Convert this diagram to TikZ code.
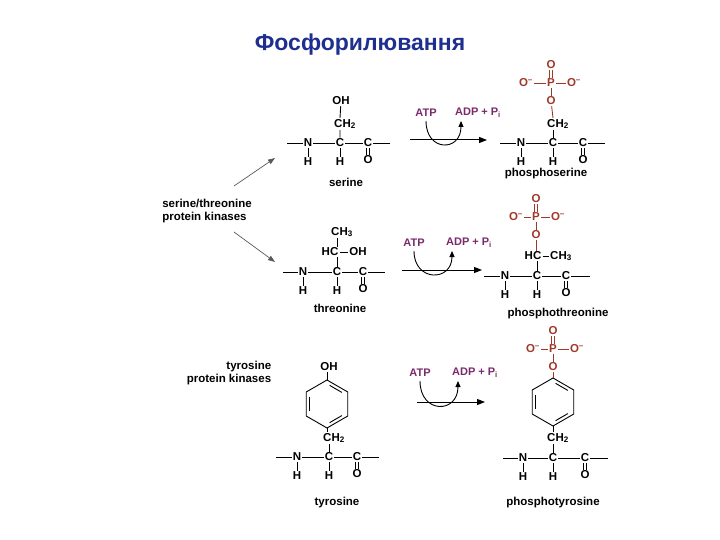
\documentclass[tikz,border=0pt]{standalone}
\usepackage{fontspec}
\setmainfont{Liberation Sans}
\usetikzlibrary{arrows.meta,calc}
\definecolor{titleblue}{HTML}{1F2F8F}
\definecolor{atppurple}{HTML}{7A2A6A}
\definecolor{phosred}{HTML}{A03828}
\tikzset{
 atom/.style={inner sep=1pt,font=\bfseries\fontsize{11.5}{12}\selectfont},
 lbl/.style={inner sep=1pt,font=\bfseries\fontsize{11.5}{12.5}\selectfont,align=left},
 bond/.style={line width=0.9pt},
 pbond/.style={line width=0.9pt,draw=phosred},
 patom/.style={atom,text=phosred},
 rlab/.style={inner sep=1pt,font=\bfseries\fontsize{11}{12}\selectfont,text=atppurple},
 rarrow/.style={line width=1pt,-{Triangle[length=8pt,width=6pt]}},
 karrow/.style={line width=0.7pt,draw=gray!70!black,-{Triangle[length=7pt,width=5pt]}}
}
\newcommand\bbone[7]{%
 \node[atom] (#1N) at (#2,#5) {N};
 \node[atom] (#1A) at (#3,#5) {C};
 \node[atom] (#1C) at (#4,#5) {C};
 \node[atom] (#1HN) at (#2,#5+19) {H};
 \node[atom] (#1HA) at (#3,#5+19) {H};
 \node[atom] (#1O) at (#4,#5+17) {O};
 \coordinate (#1L) at (#6,#5); \coordinate (#1R) at (#7,#5);
 \draw[bond] (#1L)--(#1N)--(#1A)--(#1C)--(#1R);
 \draw[bond] (#1N)--(#1HN) (#1A)--(#1HA);
 \draw[bond,double,double distance=2pt] (#1C)--(#1O);}
\newcommand\phosgrp[5]{% prefix, x, yP, xLeft, xRight
 \node[patom] (#1PT) at (#2,#3-18) {O};
 \node[patom] (#1P) at (#2,#3) {P};
 \node[patom] (#1PL) at (#4,#3) {O\textsuperscript{--}};
 \node[patom] (#1PR) at (#5,#3) {O\textsuperscript{--}};
 \node[patom] (#1PO) at (#2,#3+18) {O};
 \draw[pbond,double,double distance=2pt] (#1P)--(#1PT);
 \draw[pbond] (#1PL)--(#1P)--(#1PR) (#1P)--(#1PO);}
\newcommand\rxn[7]{% prefix, x1, x2, y, xATP, xADP, ylab
 \node[rlab] (#1atp) at (#5,#7) {ATP};
 \node[rlab] (#1adp) at (#6,#7) {ADP + P\textsubscript{i}};
 \coordinate (#1s) at (#2,#4); \coordinate (#1e) at (#3,#4);
 \draw[rarrow] (#1s)--(#1e);
 \coordinate (#1a) at (#5,#7+8);
 \coordinate (#1t) at (#6-17,#7+8);
 \coordinate (#1c1) at (#5,#4+12);
 \coordinate (#1c2) at (#6-17,#4+12);
 \draw[line width=0.9pt,-{Triangle[length=6pt,width=5pt]}] (#1a) .. controls (#1c1) and (#1c2) .. (#1t);}
\newcommand\benz[3]{% prefix, cx, cy
 \foreach \i in {0,...,5}{\coordinate (#1r\i) at ({#2+24*cos(90+60*\i)},{#3-24*sin(90+60*\i)});}
 \coordinate (#1c) at (#2,#3);
 \draw[bond] (#1r0)--(#1r1)--(#1r2)--(#1r3)--(#1r4)--(#1r5)--cycle;
 \draw[bond] ($(#1r1)!0.15!(#1r2)!0.16!(#1c)$)--($(#1r2)!0.15!(#1r1)!0.16!(#1c)$);
 \draw[bond] ($(#1r3)!0.15!(#1r4)!0.16!(#1c)$)--($(#1r4)!0.15!(#1r3)!0.16!(#1c)$);
 \draw[bond] ($(#1r5)!0.15!(#1r0)!0.16!(#1c)$)--($(#1r0)!0.15!(#1r5)!0.16!(#1c)$);}
\begin{document}
\begin{tikzpicture}[x=1pt,y=-1pt]
\useasboundingbox (0,0) rectangle (720,540);
\node[font=\bfseries\fontsize{23}{26}\selectfont,text=titleblue] (title) at (360,45) {Фосфорилювання};
% serine
\bbone{s}{308}{340}{368}{143}{287}{390}
\node[atom] (sCH) at (345,124) {CH\textsubscript{2}};
\node[atom] (sOH) at (341,101) {OH};
\draw[bond] (sOH)--(sCH.north -| sA) (sCH.south -| sA)--(sA);
\node[lbl] (serlab) at (346,182) {serine};
\rxn{r1}{410}{487}{140}{426}{478}{113}
% phosphoserine
\bbone{ps}{521}{553}{583}{143}{500}{605}
\node[atom] (psCH) at (558,124) {CH\textsubscript{2}};
\phosgrp{ps}{551}{83}{526}{574}
\draw[pbond] (psPO)--(psCH.north -| psA);
\draw[bond] (psCH.south -| psA)--(psA);
\node[lbl] (pserlab) at (546,174) {phosphoserine};
% kinase labels
\node[lbl] (stk) at (207,211) {serine/threonine\\protein kinases};
\coordinate (k1a) at (234,186); \coordinate (k1b) at (275,158);
\coordinate (k2a) at (234,232); \coordinate (k2b) at (275,262);
\draw[karrow] (k1a)--(k1b);
\draw[karrow] (k2a)--(k2b);
\node[lbl,align=right] (tk) at (229,373) {tyrosine\\protein kinases};
% threonine
\bbone{t}{303}{337}{363}{272}{283}{385}
\node[atom] (tHC) at (330,252) {HC};
\node[atom] (tOH) at (358,252) {OH};
\node[atom] (tCH) at (342,232) {CH\textsubscript{3}};
\draw[bond] (tHC)--(tOH) (tCH.south -| tA)--(tHC.north -| tA) (tHC.south -| tA)--(tA);
\node[lbl] (thrlab) at (340,308) {threonine};
\rxn{r2}{402}{482}{270}{414}{469}{243}
% phosphothreonine
\bbone{pt}{505}{537}{566}{276}{484}{590}
\node[atom] (ptHC) at (533,256) {HC};
\node[atom] (ptCH) at (561,256) {CH\textsubscript{3}};
\phosgrp{pt}{536}{217}{516}{558}
\draw[bond] (ptHC)--(ptCH) (ptHC.south -| ptA)--(ptA);
\draw[pbond] (ptPO)--(ptHC.north -| ptPO);
\node[lbl] (pthrlab) at (558,314) {phosphothreonine};
% tyrosine
\bbone{y}{297}{329}{357}{457}{276}{379}
\node[atom] (yCH) at (334,438) {CH\textsubscript{2}};
\node[atom] (yOH) at (329,367) {OH};
\benz{y}{327}{404}
\draw[bond] (yOH.south -| yr0)--(yr0) (yr3)--(yCH.north -| yr3) (yCH.south -| yA)--(yA);
\node[lbl] (tyrlab) at (337,503) {tyrosine};
\rxn{r3}{417}{485}{402}{420}{475}{373}
% phosphotyrosine
\bbone{py}{523}{553}{585}{458}{503}{608}
\node[atom] (pyCH) at (558,438) {CH\textsubscript{2}};
\phosgrp{py}{553}{349}{533}{577}
\benz{py}{553}{402}
\draw[pbond] (pyPO)--(pyr0);
\draw[bond] (pyr3)--(pyCH.north -| pyr3) (pyCH.south -| pyA)--(pyA);
\node[lbl] (ptyrlab) at (553,503) {phosphotyrosine};
\end{tikzpicture}
\end{document}
